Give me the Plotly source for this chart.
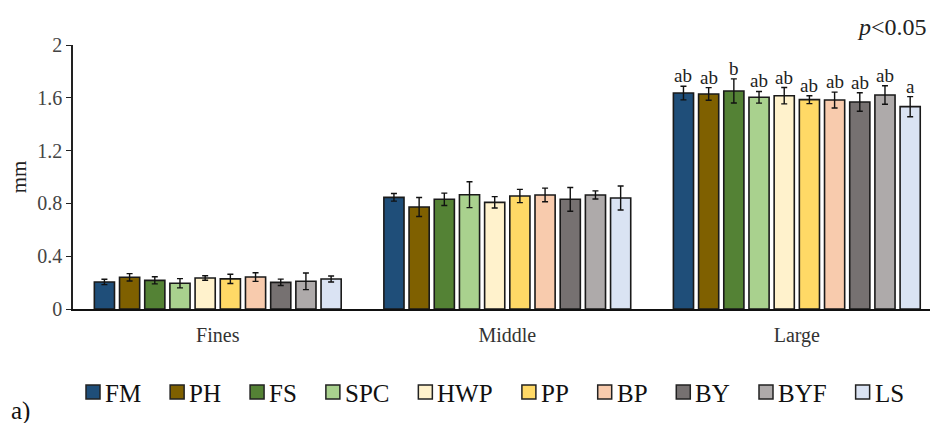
import plotly.graph_objects as go

# Particle size classes and soil treatments
classes = ["Fines", "Middle", "Large"]
treatments = ["FM", "PH", "FS", "SPC", "HWP", "PP", "BP", "BY", "BYF", "LS"]
colors = ["#1F4E79", "#7F6000", "#548235", "#A9D18E", "#FFF2CC",
          "#FFD966", "#F8CBAD", "#767171", "#AEAAAA", "#DAE3F3"]

# Mean values (mm) per treatment, one list per class
fines = [0.205, 0.240, 0.217, 0.195, 0.235, 0.228, 0.242, 0.202, 0.210, 0.227]
middle = [0.846, 0.773, 0.831, 0.866, 0.808, 0.856, 0.864, 0.831, 0.864, 0.841]
large = [1.636, 1.629, 1.652, 1.604, 1.616, 1.586, 1.583, 1.568, 1.621, 1.533]

# Standard deviations
fines_err = [0.020, 0.028, 0.027, 0.035, 0.017, 0.035, 0.033, 0.024, 0.063, 0.023]
middle_err = [0.029, 0.072, 0.047, 0.098, 0.043, 0.050, 0.052, 0.090, 0.031, 0.091]
large_err = [0.052, 0.048, 0.091, 0.044, 0.062, 0.030, 0.060, 0.070, 0.070, 0.076]

# Significance letters for the Large class
large_letters = ["ab", "ab", "b", "ab", "ab", "ab", "ab", "ab", "ab", "a"]

y_ticks = [0, 0.4, 0.8, 1.2, 1.6, 2]
y_ticklabels = ["0", "0.4", "0.8", "1.2", "1.6", "2"]

SERIF = "Liberation Serif, Times New Roman, serif"
BARGAP = 0.13
n = len(treatments)

W, H = 930, 423
M_L, M_R, M_T, M_B = 73, 0, 45, 114
PLOT_W = W - M_L - M_R
PLOT_H = H - M_T - M_B

fig = go.Figure()
for i, name in enumerate(treatments):
    fig.add_trace(go.Bar(
        name=name,
        x=list(range(len(classes))),
        y=[fines[i], middle[i], large[i]],
        marker=dict(color=colors[i], line=dict(color="#1a1a1a", width=1.6)),
        error_y=dict(type="data", array=[fines_err[i], middle_err[i], large_err[i]],
                     visible=True, color="#111111", thickness=1.4, width=3),
        showlegend=False,
    ))

# Letters above the Large error bars, centred on each bar of the group
slot = (1 - BARGAP) / n
for i in range(n):
    xc = 2 - (1 - BARGAP) / 2 + (i + 0.5) * slot
    fig.add_annotation(
        x=xc, y=large[i] + large_err[i], xref="x", yref="y",
        text=large_letters[i], showarrow=False, yanchor="bottom", yshift=-2,
        font=dict(family=SERIF, size=19, color="#222222"),
    )

# Horizontal key below the axis: swatch + label, spaced by label width
LEG_FONT = 25
GLYPH_W = {"F": 0.556, "M": 0.889, "P": 0.556, "H": 0.722, "S": 0.556, "C": 0.667,
           "W": 0.944, "B": 0.667, "Y": 0.722, "L": 0.611}
SW = 14          # swatch size, px
leg_x = 86.0     # left edge of first swatch, px
leg_y = 392.0    # vertical centre of the key, px


def px_to_paper_x(px):
    return (px - M_L) / PLOT_W


def px_to_paper_y(py):
    return (H - M_B - py) / PLOT_H


for i, name in enumerate(treatments):
    fig.add_shape(
        type="rect", xref="paper", yref="paper",
        x0=px_to_paper_x(leg_x), x1=px_to_paper_x(leg_x + SW),
        y0=px_to_paper_y(leg_y + SW / 2), y1=px_to_paper_y(leg_y - SW / 2),
        fillcolor=colors[i], line=dict(color="#222222", width=1.5),
    )
    fig.add_annotation(
        x=px_to_paper_x(leg_x + SW + 3), y=px_to_paper_y(leg_y + 1),
        xref="paper", yref="paper", xanchor="left", yanchor="middle",
        text=name, showarrow=False,
        font=dict(family=SERIF, size=LEG_FONT, color="#111111"),
    )
    text_w = sum(GLYPH_W[c] for c in name) * LEG_FONT
    leg_x += SW + 4 + text_w + 30

fig.add_annotation(
    x=1, y=1.0, xref="paper", yref="paper", xanchor="right", yanchor="bottom",
    xshift=-1, yshift=3,
    text="<i>p</i><0.05", showarrow=False,
    font=dict(family=SERIF, size=24, color="#222222"),
)
fig.add_annotation(
    x=px_to_paper_x(9), y=px_to_paper_y(427), xref="paper", yref="paper",
    xanchor="left", yanchor="bottom",
    text="a)", showarrow=False,
    font=dict(family=SERIF, size=25, color="#111111"),
)

fig.update_layout(
    width=W, height=H,
    margin=dict(l=M_L, r=M_R, t=M_T, b=M_B),
    paper_bgcolor="white", plot_bgcolor="white",
    barmode="group", bargap=BARGAP, bargroupgap=0.2,
    showlegend=False,
    xaxis=dict(
        range=[-0.5, 2.46],
        tickvals=list(range(len(classes))), ticktext=classes,
        showline=True, linecolor="#111111", linewidth=2,
        ticks="", showgrid=False, zeroline=False,
        tickfont=dict(family=SERIF, size=20, color="#333333"),
        ticklabelstandoff=7,
    ),
    yaxis=dict(
        range=[0, 2], tickvals=y_ticks, ticktext=y_ticklabels,
        showline=True, linecolor="#222222", linewidth=1.5,
        ticks="outside", ticklen=5, tickcolor="#222222",
        showgrid=False, zeroline=False,
        tickfont=dict(family=SERIF, size=20, color="#444444"),
        title=dict(text="mm", font=dict(family=SERIF, size=21, color="#222222"), standoff=5),
    ),
)

fig.write_html("out.html")
